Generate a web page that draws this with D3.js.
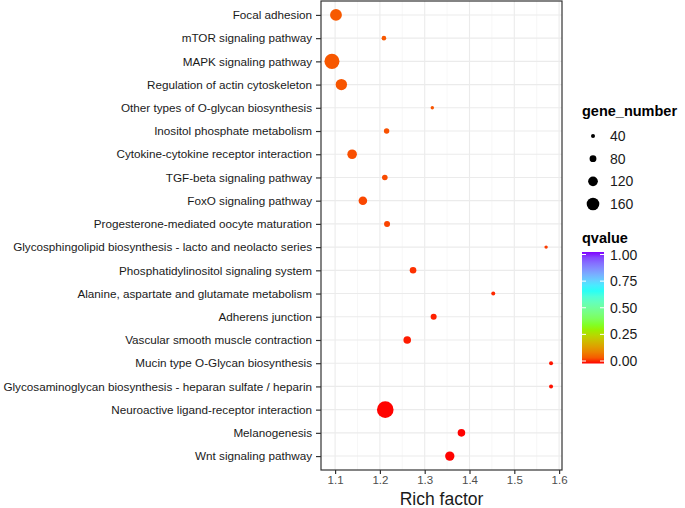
<!DOCTYPE html>
<html><head><meta charset="utf-8">
<script src="https://cdn.jsdelivr.net/npm/d3@7"></script>
<style>body{margin:0;background:#fff;} text{font-family:"Liberation Sans",Arial,sans-serif;}</style>
</head><body><svg id="c" width="685" height="508"></svg>
<script>
const pathways = ["Focal adhesion","mTOR signaling pathway","MAPK signaling pathway","Regulation of actin cytoskeleton","Other types of O-glycan biosynthesis","Inositol phosphate metabolism","Cytokine-cytokine receptor interaction","TGF-beta signaling pathway","FoxO signaling pathway","Progesterone-mediated oocyte maturation","Glycosphingolipid biosynthesis - lacto and neolacto series","Phosphatidylinositol signaling system","Alanine, aspartate and glutamate metabolism","Adherens junction","Vascular smooth muscle contraction","Mucin type O-Glycan biosynthesis","Glycosaminoglycan biosynthesis - heparan sulfate / heparin","Neuroactive ligand-receptor interaction","Melanogenesis","Wnt signaling pathway"];
const richFactor = [1.102,1.209,1.093,1.114,1.317,1.215,1.138,1.211,1.162,1.216,1.571,1.274,1.453,1.320,1.261,1.582,1.582,1.212,1.382,1.356];
const geneNumber = [149,48,194,143,32,60,118,62,104,68,32,76,40,68,90,40,40,216,90,115];
const qvalue = [0.050,0.049,0.048,0.046,0.045,0.042,0.040,0.036,0.033,0.029,0.024,0.016,0.012,0.008,0.006,0.004,0.003,0.0005,0.0004,0.0003];
const xTicks = [1.1,1.2,1.3,1.4,1.5,1.6];
const sizeBreaks = [40,80,120,160];
const qTicks = [0,0.25,0.5,0.75,1];
const qColorStops = [0,1/3,2/3,1];
const qColors = ["#FF0000","#80FF00","#00FFFF","#8000FF"];

const svg = d3.select("#c");
const L=321,R=562,T=1,B=470;
const ext=d3.extent(richFactor), pad=(ext[1]-ext[0])*0.05;
const x=d3.scaleLinear().domain([ext[0]-pad,ext[1]+pad]).range([L,R]);
const y=d3.scalePoint().domain(pathways).range([T,B]).padding(0.6);
const r=d3.scaleLinear().domain([40,160]).range([2,6.3]);
const col=d3.scaleLinear().domain(qColorStops).range(qColors).interpolate(d3.interpolateLab);

// grid
const minor=d3.range(1.05,1.65,0.1).filter(v=>v>x.domain()[0]&&v<x.domain()[1]);
svg.append("g").selectAll("line").data(minor).join("line")
 .attr("x1",d=>x(d)).attr("x2",d=>x(d)).attr("y1",T).attr("y2",B).attr("stroke","#f2f2f2").attr("stroke-width",0.6);
svg.append("g").selectAll("line").data(xTicks).join("line")
 .attr("x1",d=>x(d)).attr("x2",d=>x(d)).attr("y1",T).attr("y2",B).attr("stroke","#ebebeb").attr("stroke-width",1.1);
svg.append("g").selectAll("line").data(pathways).join("line")
 .attr("x1",L).attr("x2",R).attr("y1",d=>y(d)).attr("y2",d=>y(d)).attr("stroke","#ebebeb").attr("stroke-width",1.1);

// points
const data=pathways.map((p,i)=>({p,x:richFactor[i],g:geneNumber[i],q:qvalue[i]}));
svg.append("g").selectAll("circle").data(data).join("circle")
 .attr("cx",d=>x(d.x)).attr("cy",d=>y(d.p)).attr("r",d=>r(d.g)).attr("fill",d=>col(d.q));

// border
svg.append("rect").attr("x",L).attr("y",T).attr("width",R-L).attr("height",B-T).attr("fill","none").attr("stroke","#333").attr("stroke-width",1.2);

// axes
const ya=svg.append("g").attr("transform",`translate(${L},0)`).call(d3.axisLeft(y).tickSize(5).tickPadding(4));
ya.select(".domain").remove();
ya.selectAll("line").attr("stroke","#333").attr("stroke-width",1.2);
ya.selectAll("text").attr("font-size","11.7px").attr("fill","#1a1a1a").style("font-family","Liberation Sans, Arial, sans-serif");
const xa=svg.append("g").attr("transform",`translate(0,${B})`).call(d3.axisBottom(x).tickValues(xTicks).tickFormat(d3.format(".1f")).tickSize(4).tickPadding(2));
xa.select(".domain").remove();
xa.selectAll("line").attr("stroke","#333").attr("stroke-width",1.2);
xa.selectAll("text").attr("font-size","11.5px").attr("fill","#4d4d4d").style("font-family","Liberation Sans, Arial, sans-serif");
svg.append("text").attr("x",(L+R)/2).attr("y",505).attr("text-anchor","middle").attr("font-size","17.5px").attr("fill","#1a1a1a").text("Rich factor");

// size legend
svg.append("text").attr("x",582).attr("y",116).attr("font-size","14.5px").attr("font-weight","bold").text("gene_number");
const sy=d3.scalePoint().domain(sizeBreaks).range([136,204]);
const sl=svg.append("g");
sl.selectAll("circle").data(sizeBreaks).join("circle").attr("cx",593).attr("cy",d=>sy(d)).attr("r",d=>r(d)).attr("fill","#000");
sl.selectAll("text").data(sizeBreaks).join("text").attr("x",610).attr("y",d=>sy(d)).attr("dy","0.36em").attr("font-size","14px").attr("fill","#1a1a1a").text(d=>d);

// colour legend
svg.append("text").attr("x",582).attr("y",243).attr("font-size","14.5px").attr("font-weight","bold").text("qvalue");
const cy=d3.scaleLinear().domain([0,1]).range([361,254.5]);
const grad=svg.append("defs").append("linearGradient").attr("id","qg").attr("x1",0).attr("x2",0).attr("y1",1).attr("y2",0);
grad.selectAll("stop").data(d3.range(0,1.001,0.05)).join("stop").attr("offset",d=>d).attr("stop-color",d=>col(d));
svg.append("rect").attr("x",582).attr("y",cy(1)-2.5).attr("width",22).attr("height",cy(0)-cy(1)+5).attr("fill","url(#qg)");
const cl=svg.append("g");
cl.selectAll("line.l").data(qTicks).join("line").attr("x1",582).attr("x2",586).attr("y1",d=>cy(d)).attr("y2",d=>cy(d)).attr("stroke","#fff");
cl.selectAll("line.r").data(qTicks).join("line").attr("x1",600).attr("x2",604).attr("y1",d=>cy(d)).attr("y2",d=>cy(d)).attr("stroke","#fff");
cl.selectAll("text").data(qTicks).join("text").attr("x",610).attr("y",d=>cy(d)).attr("dy","0.36em").attr("font-size","14px").attr("fill","#1a1a1a").text(d=>d3.format(".2f")(d));
</script></body></html>
